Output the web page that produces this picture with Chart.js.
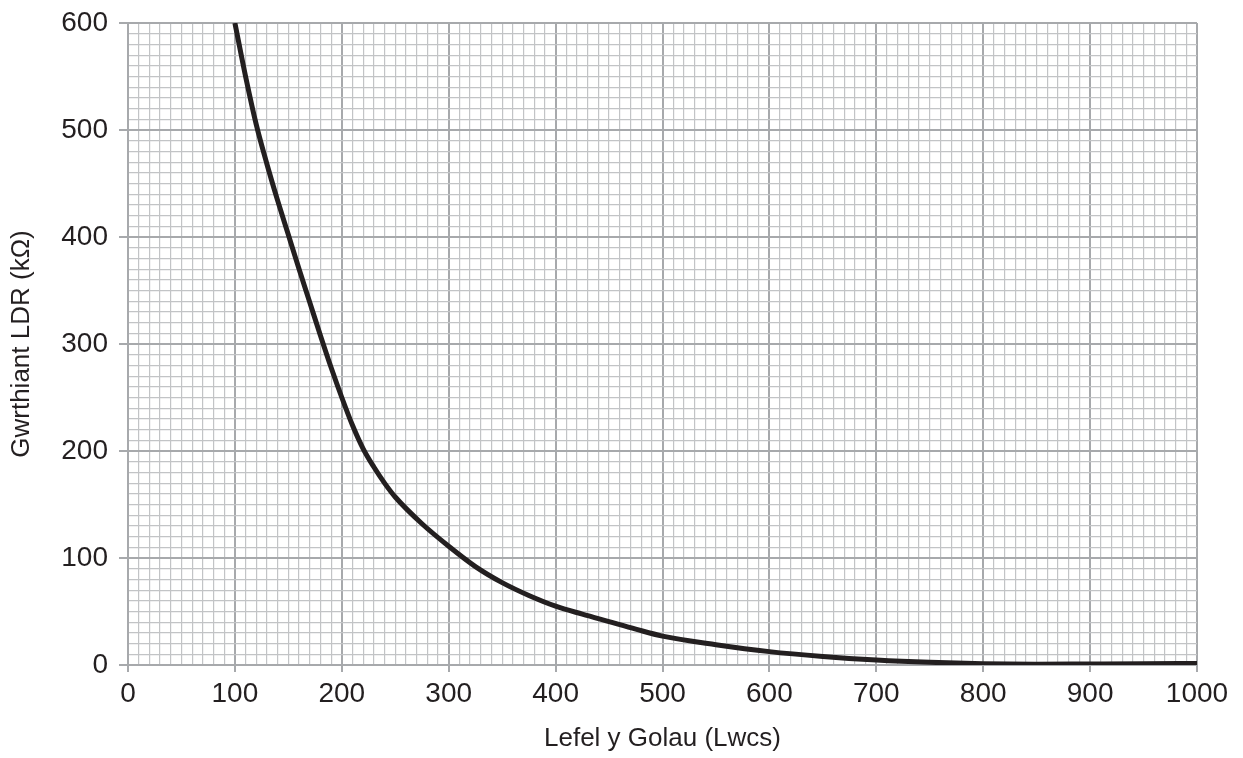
<!DOCTYPE html>
<html>
<head>
<meta charset="utf-8">
<script src="https://cdn.jsdelivr.net/npm/chart.js@4"></script>
<style>
  html, body { margin: 0; padding: 0; background: #fff; }
  #wrap { width: 1243px; height: 758px; }
</style>
</head>
<body>
<div id="wrap"><canvas id="chart" width="1243" height="758"></canvas></div>
<script>
// Light level (lux)
const lightLevels = [100, 110, 120, 130, 140, 150, 160, 170, 180, 190, 200, 210, 220, 230, 240, 250,
    275, 300, 325, 350, 375, 400, 425, 450, 475, 500, 550, 600, 650, 700, 750, 800, 850, 900, 950, 1000];
// LDR resistance (kOhm)
const resistance = [600, 550, 505, 468, 434, 402, 370, 339, 308, 278, 250, 224, 202, 185, 170, 157,
    132, 111, 92, 77, 65, 55, 47.5, 40.5, 33.5, 27, 19, 12.5, 8, 4.7, 2.5, 1.2, 0.8, 1, 1.2, 1.5];

const xTitle = "Lefel y Golau (Lwcs)";
const yTitle = "Gwrthiant LDR (kΩ)";

const majorColor = "#a7a9ac";
const minorColor = "#c2c4c6";
const textColor = "#231f20";

Chart.defaults.font.family = "'Liberation Sans', Arial, sans-serif";
Chart.defaults.color = textColor;

const points = lightLevels.map((x, i) => ({ x: x, y: resistance[i] }));

function isMajor(ctx) {
    return ctx.tick && Math.round(ctx.tick.value) % 100 === 0;
}

function gridOptions(tickLength) {
    return {
        color: (ctx) => (isMajor(ctx) ? majorColor : minorColor),
        lineWidth: (ctx) => (isMajor(ctx) ? 2 : 1.2),
        tickColor: (ctx) => (isMajor(ctx) ? majorColor : "transparent"),
        tickWidth: 2,
        tickLength: tickLength,
    };
}

function majorLabel(value) {
    const v = Math.round(value);
    return v % 100 === 0 ? String(v) : "";
}

new Chart(document.getElementById("chart").getContext("2d"), {
    type: "line",
    data: {
        datasets: [
            {
                data: points,
                borderColor: "#231f20",
                borderWidth: 5,
                pointRadius: 0,
                fill: false,
                cubicInterpolationMode: "monotone",
            },
        ],
    },
    options: {
        responsive: false,
        animation: false,
        layout: {
            autoPadding: false,
            padding: { top: 23, right: 46, left: 0, bottom: 0 },
        },
        plugins: {
            legend: { display: false },
            tooltip: { enabled: false },
        },
        scales: {
            x: {
                type: "linear",
                min: 0,
                max: 1000,
                grid: gridOptions(7),
                border: { color: majorColor, width: 2 },
                ticks: {
                    stepSize: 10,
                    autoSkip: false,
                    maxRotation: 0,
                    padding: 5,
                    font: { size: 28 },
                    callback: majorLabel,
                },
                title: {
                    display: true,
                    text: xTitle,
                    font: { size: 26 },
                    padding: { top: 0, bottom: 4 },
                },
                afterFit: (scale) => {
                    scale.height = 93;
                },
            },
            y: {
                min: 0,
                max: 600,
                grid: gridOptions(9),
                border: { color: majorColor, width: 2 },
                ticks: {
                    stepSize: 10,
                    autoSkip: false,
                    padding: 11,
                    font: { size: 28, lineHeight: 0.8 },
                    callback: majorLabel,
                },
                title: {
                    display: true,
                    text: yTitle,
                    font: { size: 26 },
                    padding: { top: 6, bottom: 0 },
                },
                afterFit: (scale) => {
                    scale.width = 128;
                },
            },
        },
    },
});
</script>
</body>
</html>
